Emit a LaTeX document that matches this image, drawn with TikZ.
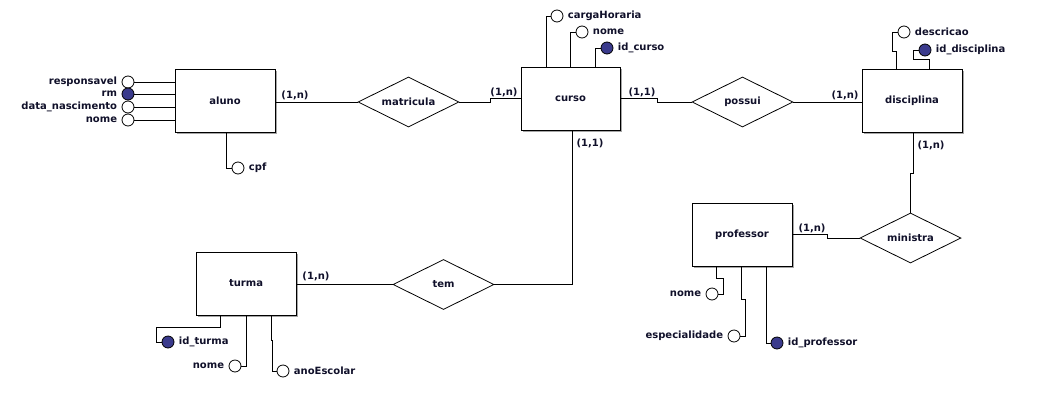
\documentclass[tikz,border=0pt]{standalone}
\usepackage{fontspec}
\setmainfont{DejaVu Sans}
\usetikzlibrary{shapes.geometric,shadows}
\definecolor{keyblue}{RGB}{58,58,140}
\definecolor{ink}{RGB}{16,16,42}
\begin{document}
\begin{tikzpicture}[x=1pt,y=-1pt,
  every node/.style={font=\fontsize{10}{12}\selectfont\bfseries, text=ink},
  entity/.style={draw, fill=white, line width=1pt, minimum width=100pt, minimum height=63pt, inner sep=0pt,
    drop shadow={shadow xshift=2pt, shadow yshift=-2pt, fill=gray!70, opacity=1}},
  relation/.style={diamond, draw, fill=white, line width=0.8pt, aspect=2, minimum width=101pt, minimum height=50pt, inner sep=0pt},
  attr/.style={circle, draw, fill=white, line width=0.8pt, minimum size=12pt, inner sep=0pt},
  keyattr/.style={attr, fill=keyblue},
  card/.style={inner sep=0pt},
  link/.style={line width=1pt}]
\useasboundingbox[fill=white] (0,0) rectangle (1046,418);

% entities
\node[entity] (aluno) at (225,100.5) {aluno};
\node[entity, minimum width=99pt] (curso) at (570.5,98.5) {curso};
\node[entity] (disciplina) at (912,100.5) {disciplina};
\node[entity] (professor) at (742,234.5) {professor};
\node[entity] (turma) at (246,283.5) {turma};

% relationships
\node[relation] (matricula) at (408.5,102) {matricula};
\node[relation] (possui) at (742.5,102) {possui};
\node[relation] (ministra) at (910.5,238) {ministra};
\node[relation] (tem) at (443.5,284.5) {tem};

% attributes of aluno
\node[attr, label={[label distance=1pt]left:responsavel}] (aresp) at (128,82) {};
\node[keyattr, label={[label distance=1pt]left:rm}] (arm) at (128,94) {};
\node[attr, label={[label distance=1pt]left:data\_nascimento}] (adata) at (128,107) {};
\node[attr, label={[label distance=1pt]left:nome}] (anome) at (128,120) {};
\node[attr, label={[label distance=1pt]right:cpf}] (acpf) at (238,168) {};

% attributes of curso
\node[attr, label={[label distance=1pt]right:cargaHoraria}] (ccarga) at (557,16) {};
\node[attr, label={[label distance=1pt]right:nome}] (cnome) at (582,32) {};
\node[keyattr, label={[label distance=1pt]right:id\_curso}] (cid) at (607,48) {};

% attributes of disciplina
\node[attr, label={[label distance=1pt]right:descricao}] (ddesc) at (904,32) {};
\node[keyattr, label={[label distance=1pt]right:id\_disciplina}] (did) at (925,50) {};

% attributes of professor
\node[attr, label={[label distance=1pt]left:nome}] (pnome) at (712,294) {};
\node[attr, label={[label distance=1pt]left:especialidade}] (pesp) at (734,336) {};
\node[keyattr, label={[label distance=1pt]right:id\_professor}] (pid) at (777,343) {};

% attributes of turma
\node[keyattr, label={[label distance=1pt]right:id\_turma}] (tid) at (168,342) {};
\node[attr, label={[label distance=1pt]left:nome}] (tnome) at (235,366) {};
\node[attr, label={[label distance=1pt]right:anoEscolar}] (tano) at (283,371) {};

% attribute links
\draw[link] (aresp.east) -- (aresp.east -| aluno.west);
\draw[link] (arm.east) -- (arm.east -| aluno.west);
\draw[link] (adata.east) -- (adata.east -| aluno.west);
\draw[link] (anome.east) -- (anome.east -| aluno.west);
\draw[link] (aluno.south west) ++(52,0) |- (acpf.west);

\draw[link] (curso.north west) ++(26,0) |- (ccarga.west);
\draw[link] (curso.north west) ++(50,0) |- (cnome.west);
\draw[link] (curso.north west) ++(75,0) |- (cid.west);

\draw[link] (disciplina.north west) ++(35,0) -- ++(0,-17) -- ++(-4,0) |- (ddesc.west);
\draw[link] (disciplina.north west) ++(68,0) -- ++(0,-9) -- ++(-16,0) |- (did.west);

\draw[link] (professor.south west) ++(25,0) -- ++(0,12) -- ++(7,0) |- (pnome.east);
\draw[link] (professor.south west) ++(50,0) -- ++(0,33) -- ++(4,0) |- (pesp.east);
\draw[link] (professor.south west) ++(75,0) |- (pid.west);

\draw[link] (turma.south west) ++(25,0) -- ++(0,12) -- ++(-64,0) |- (tid.west);
\draw[link] (turma.south west) ++(51,0) |- (tnome.east);
\draw[link] (turma.south west) ++(76,0) -- ++(0,25) -- ++(1,0) |- (tano.west);

% relationship links
\draw[link] (matricula.west -| aluno.east) -- (matricula.west);
\draw[link] (matricula.east) -- ++(31,0) |- (curso.west);
\draw[link] (curso.east) -- ++(37,0) |- (possui.west);
\draw[link] (possui.east) -- (possui.east -| disciplina.west);
\draw[link] (curso.south) ++(1.5,0) |- (tem.east);
\draw[link] (tem.west) -- (tem.west -| turma.east);
\draw[link] (disciplina.south) ++(1,0) -- ++(0,41) -| (ministra.north);
\draw[link] (professor.east) -- ++(35,0) |- (ministra.west);

% cardinalities
\node[card] (k1) at (295,95.5) {(1,n)};
\node[card] (k2) at (504,92.5) {(1,n)};
\node[card] (k3) at (642,92.5) {(1,1)};
\node[card] (k4) at (845,95.5) {(1,n)};
\node[card] (k5) at (590,143) {(1,1)};
\node[card] (k6) at (931,145) {(1,n)};
\node[card] (k7) at (812,228.5) {(1,n)};
\node[card] (k8) at (316,276.5) {(1,n)};
\end{tikzpicture}
\end{document}
